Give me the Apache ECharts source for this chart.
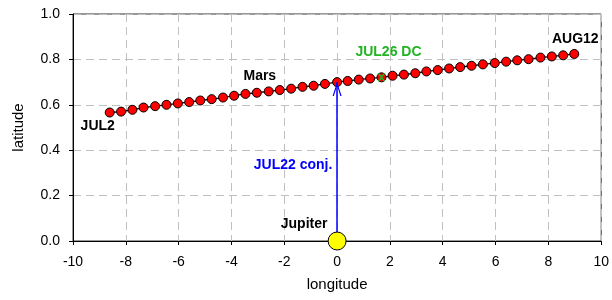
<!DOCTYPE html>
<html>
<head>
<meta charset="utf-8">
<script src="https://cdn.jsdelivr.net/npm/echarts@6/dist/echarts.min.js"></script>
<style>
  html, body { margin: 0; padding: 0; background: #fff; }
  #main { width: 612px; height: 300px; }
</style>
</head>
<body>
<div id="main"></div>
<script>
// Mars track, JUL2 .. AUG12 (one point per day)
var marsLon = [-8.61, -8.18, -7.75, -7.33, -6.89, -6.46, -6.03, -5.60, -5.18, -4.75,
               -4.32, -3.90, -3.47, -3.04, -2.59, -2.17, -1.74, -1.31, -0.89, -0.46,
                0.00,  0.40,  0.82,  1.25,  1.68,  2.10,  2.53,  2.96,  3.38,  3.81,
                4.24,  4.66,  5.09,  5.52,  5.97,  6.40,  6.82,  7.25,  7.70,  8.13,
                8.56,  8.98];
var marsLat = [0.566, 0.570, 0.578, 0.588, 0.594, 0.600, 0.606, 0.612, 0.619, 0.625,
               0.632, 0.640, 0.648, 0.653, 0.659, 0.665, 0.671, 0.679, 0.684, 0.692,
               0.700, 0.705, 0.711, 0.716, 0.721, 0.728, 0.733, 0.739, 0.747, 0.753,
               0.760, 0.766, 0.772, 0.778, 0.784, 0.790, 0.796, 0.801, 0.808, 0.813,
               0.818, 0.824];
var jupiter = [0, 0];
var conjIndex = 20;   // JUL22
var dcIndex = 24;     // JUL26
var xTicks = [-10, 10, 2];
var yTicks = [0, 1, 0.2];

var font = 'Liberation Sans, Arial, sans-serif';

var pointLabels = {
  0:  { text: 'JUL2',  color: '#000', offset: [-12, 14] },
  13: { text: 'Mars',  color: '#000', offset: [3, -17] },
  41: { text: 'AUG12', color: '#000', offset: [1, -15] }
};

function boldLabel(text, color, offset) {
  return {
    show: true, position: 'inside', offset: offset, formatter: text,
    color: color, fontFamily: font, fontWeight: 'bold', fontSize: 14
  };
}

var marsData = marsLon.map(function (x, i) {
  var item = { value: [x, marsLat[i]] };
  var l = pointLabels[i];
  if (l) item.label = boldLabel(l.text, l.color, l.offset);
  return item;
});

var conjPt = [marsLon[conjIndex], marsLat[conjIndex]];
var dcPt = [marsLon[dcIndex], marsLat[dcIndex]];
var arrowMid = [(jupiter[0] + conjPt[0]) / 2, (jupiter[1] + conjPt[1]) / 2];

var chart = echarts.init(document.getElementById('main'));
var option = {
  backgroundColor: '#fff',
  animation: false,
  grid: {
    left: 73, right: 8, top: 14, bottom: 59,
    show: true, borderColor: '#333', borderWidth: 1
  },
  xAxis: {
    type: 'value', min: xTicks[0], max: xTicks[1], interval: xTicks[2],
    name: 'longitude', nameLocation: 'middle', nameGap: 36,
    nameTextStyle: { fontFamily: font, fontSize: 15, color: '#000' },
    axisLine: { onZero: false, lineStyle: { color: '#000' } },
    axisTick: { show: true, length: 4, lineStyle: { color: '#000' } },
    axisLabel: { fontFamily: font, fontSize: 14, color: '#000', margin: 14 },
    splitLine: { show: true, lineStyle: { color: '#c0c0c0', type: [8, 5] } }
  },
  yAxis: {
    type: 'value', min: yTicks[0], max: yTicks[1], interval: yTicks[2],
    name: 'latitude', nameLocation: 'middle', nameGap: 47,
    nameTextStyle: { fontFamily: font, fontSize: 15, color: '#000' },
    axisLine: { show: true, onZero: false, lineStyle: { color: '#000' } },
    axisTick: { show: true, length: 4, lineStyle: { color: '#000' } },
    axisLabel: {
      fontFamily: font, fontSize: 14, color: '#000', margin: 13,
      formatter: function (v) { return v.toFixed(1); }
    },
    splitLine: { show: true, lineStyle: { color: '#c0c0c0', type: [8, 5] } }
  },
  series: [
    {
      name: 'Mars', type: 'line', data: marsData,
      symbol: 'circle', symbolSize: 9,
      lineStyle: { color: '#000', width: 1.3 },
      itemStyle: { color: '#ff0000', borderColor: '#000', borderWidth: 1 },
      z: 3
    },
    {
      name: 'DC', type: 'scatter',
      data: [{ value: dcPt, label: boldLabel('JUL26 DC', '#22b422', [7, -25]) }],
      symbol: 'path://M0,0 L2,0 L5,3 L8,0 L10,0 L6,5 L10,10 L8,10 L5,7 L2,10 L0,10 L4,5 Z',
      symbolSize: 8,
      itemStyle: { color: '#22b422', opacity: 1 },
      z: 4
    },
    {
      name: 'notes', type: 'scatter', symbol: 'circle', symbolSize: 1,
      data: [{ value: arrowMid, label: boldLabel('JUL22 conj.', '#0000ff', [-44, 4]) }],
      itemStyle: { color: 'rgba(0,0,0,0)', opacity: 1 },
      z: 4
    },
    {
      name: 'Jupiter', type: 'scatter',
      data: [{ value: jupiter, label: boldLabel('Jupiter', '#000', [-33, -17]) }],
      symbol: 'circle', symbolSize: 18, clip: false,
      itemStyle: { color: '#ffff00', borderColor: '#000', borderWidth: 1, opacity: 1 },
      markLine: {
        silent: true, animation: false,
        symbol: ['none', 'path://M0,10 L5,0 L10,10 L8.6,10 L5,2.6 L1.4,10 Z'],
        symbolSize: [9, 14],
        symbolOffset: [0, [0, 7]],
        label: { show: false },
        lineStyle: { color: '#0000ff', width: 1.5, type: 'solid' },
        data: [[{ coord: jupiter }, { coord: conjPt }]]
      },
      z: 5
    }
  ]
};
chart.setOption(option);
</script>
</body>
</html>
